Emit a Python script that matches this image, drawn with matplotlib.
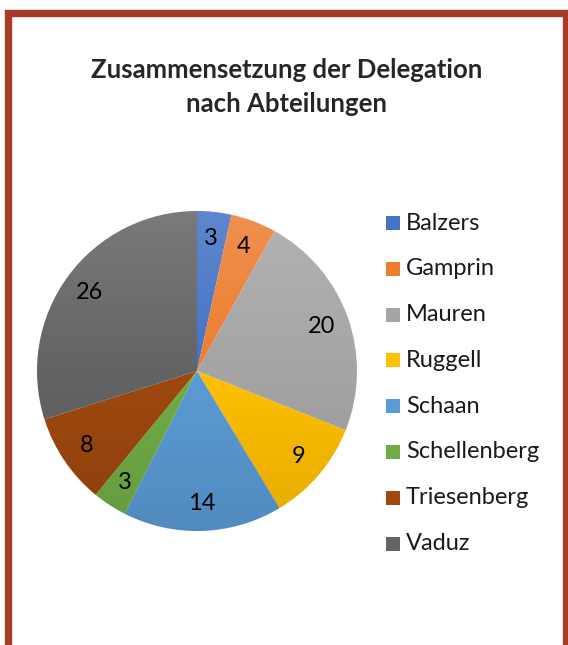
#!/usr/bin/env python
# pie chart: Zusammensetzung der Delegation nach Abteilungen

import matplotlib
matplotlib.use('Agg')
import matplotlib.pyplot as plt
from matplotlib.patches import Rectangle, Circle
import numpy as np

categories = ['Balzers', 'Gamprin', 'Mauren', 'Ruggell', 'Schaan',
              'Schellenberg', 'Triesenberg', 'Vaduz']
values = [3, 4, 20, 9, 14, 3, 8, 26]
colors = ['#4472C4', '#ED7D31', '#A5A5A5', '#FFC000', '#5B9BD5',
          '#70AD47', '#9E480E', '#636363']
title = 'Zusammensetzung der Delegation\nnach Abteilungen'

plt.rcParams['font.family'] = ['Lato', 'DejaVu Sans']

W, H = 568, 645
fig = plt.figure(figsize=(W / 100, H / 100), dpi=100)

# frame around the chart (bottom edge is cut off)
frame_col = '#A63C28'
fig.patches.append(Rectangle((7.5 / W, -0.05), (566 - 7.5) / W, (H - 12.5) / H + 0.05,
                             transform=fig.transFigure, fill=False,
                             edgecolor=frame_col, linewidth=5.3, zorder=0))

fig.text(287 / W, 1 - 87 / H, title, ha='center', va='center',
         fontsize=18.5, fontweight='bold', color='#262626', linespacing=1.45)

# pie axes: centre (197, 371), radius 160 px
cx, cy, r = 197, 371, 160
ax = fig.add_axes([(cx - r) / W, (H - cy - r) / H, 2 * r / W, 2 * r / H])
wedges, texts = ax.pie(values, colors=colors, startangle=90, counterclock=False,
                       radius=1, labels=[str(v) for v in values], labeldistance=0.83,
                       wedgeprops=dict(linewidth=0),
                       textprops=dict(fontsize=17, color='black'))
for t in texts:
    t.set_ha('center')
    t.set_va('center')
ax.set_xlim(-1, 1)
ax.set_ylim(-1, 1)
ax.set_aspect('equal')
ax.axis('off')

# light top / dark bottom gradient over the pie
n = 256
g = np.linspace(0, 1, n)[:, None]
rgba = np.zeros((n, 1, 4))
top = g < 0.5
rgba[..., :3] = np.where(top[..., None], 1.0, 0.0)
rgba[..., 3] = np.where(top, (0.5 - g) * 0.30, (g - 0.5) * 0.22)
im = ax.imshow(rgba, extent=(-1, 1, -1, 1), origin='upper', aspect='auto', zorder=3)
im.set_clip_path(Circle((0, 0), 1, transform=ax.transData))
for t in texts:
    t.set_zorder(4)

# legend
y0, dy = 223, 45.8
for i, (name, col) in enumerate(zip(categories, colors)):
    y = y0 + i * dy
    fig.patches.append(Rectangle((386 / W, 1 - (y + 7) / H), 14 / W, 14 / H,
                                 transform=fig.transFigure, facecolor=col,
                                 edgecolor='none'))
    fig.text(406 / W, 1 - y / H, name, ha='left', va='center',
             fontsize=17, color='#1a1a1a')

fig.savefig('out.png', dpi=100)
